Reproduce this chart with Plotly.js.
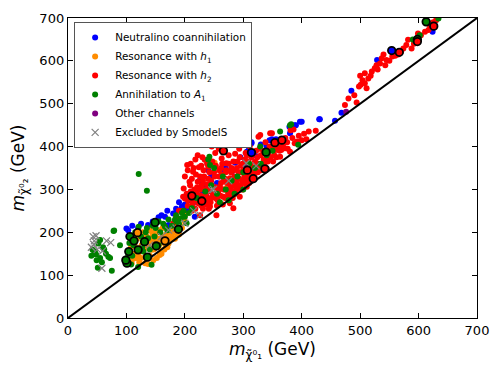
<!DOCTYPE html>
<html>
<head>
<meta charset="utf-8">
<script src="https://cdn.plot.ly/plotly-3.0.1.min.js"></script>
<style>
  html, body { margin: 0; padding: 0; background: #fff; }
  #myDiv { width: 501px; height: 376px; }
</style>
</head>
<body>
<div id="myDiv"></div>
<script>
// points, [m_chi1, m_chi2] in GeV
var coannPts = [[100,209],[103,205],[137,217],[166,236],[172,217],[180,244],[183,244],[195,256],[195,260],[203,261],
  [206,252],[214,268],[217,236],[237,283],[249,287],[230,290],[225,300],[260,330],[287,364],[306,388],
  [314,408],[314,410],[349,417],[356,417],[366,396],[379,446],[380,431],[383,443],[388,450],[390,450],
  [397,458],[400,458],[430,464],[431,464],[457,460],[468,479],[485,530],[529,602],[624,668],[240,345],
  [270,350],[300,360],[320,380],[340,400],[255,315],[280,340],[150,225],[160,240],[120,210],[190,270],
  [286,362],[234,310],
  [110,215],[125,220],[145,225],[155,235],[170,250],[185,255],[200,265],[210,275],[220,300],[225,320],
  [245,330],[265,345],[295,375],[310,395],[330,405],[345,415]];

var h1Pts = [[120,147],[109,128],[132,128],[143,159],[146,135],[157,147],[160,186],[172,174],[177,186],[126,170],
  [114,170],[140,205],[151,198],[186,198],[137,126],[115,150],[125,140],[130,160],[135,190],[150,180],
  [155,165],[165,160],[168,195],[175,200],[180,210],[162,210],[145,190],[118,185],[108,165],[104,142],
  [128,200],[140,145],[152,140],[160,150],[170,165],[183,185],[190,195],[122,130],[148,172],[138,178],
  [112,138],[182,215],[195,210],[200,225],[251,362],[273,306],[200,240],
  [110,150],[117,140],[124,155],[133,145],[138,165],[142,180],[147,160],[153,185],[158,175],[163,190],
  [167,170],[173,185],[178,195],[184,205],[188,210],[192,215],[128,180],[134,170],[144,200],[156,205]];

var h2Pts = [[198,302],[200,279],[205,262],[209,310],[212,250],[203,290],[214,272],[196,250],
  [218,255],[220,290],[222,318],[226,299],[226,330],[226,240],[230,270],[232,345],[228,262],[234,300],[235,282],[224,352],[219,335],
  [237,271],[240,353],[241,255],[243,295],[243,260],[246,400],[249,425],[245,320],[250,340],[252,280],[254,240],[238,312],[247,365],[253,305],[255,262],[236,288],
  [258,330],[260,306],[262,350],[266,283],[268,300],[271,361],[272,315],[265,265],[270,340],[274,290],[263,372],[256,423],[264,422],[275,380],[267,322],
  [277,268],[277,326],[280,350],[283,256],[286,383],[288,300],[289,314],[292,340],[294,283],[290,365],[285,330],[279,300],[295,310],[282,280],[293,395],
  [298,320],[300,345],[303,370],[306,306],[308,330],[311,400],[313,355],[299,300],[304,385],[310,315],[315,340],[302,330],
  [317,334],[318,345],[320,365],[323,361],[326,423],[329,427],[325,340],[330,380],[333,355],[328,395],[335,370],[322,390],
  [340,349],[343,380],[349,431],[351,365],[355,392],[360,400],[345,400],[338,410],[357,375],[346,431],
  [363,376],[365,392],[371,396],[380,388],[386,440],[381,438],[388,408],[400,415],[408,417],[424,437],[395,425],[375,410],
  [180,221],[197,283],[190,250],[185,235],[208,285],[216,300],[231,320],[244,280],[257,292],[262,315],[284,345],[296,355],
  [205,275],[210,295],[213,265],[217,280],[221,305],[223,268],[227,285],[229,310],[231,255],[233,330],
  [236,265],[239,300],[240,325],[242,340],[244,270],[246,310],[248,290],[251,330],[253,355],[256,275],
  [257,300],[259,345],[261,285],[263,335],[264,360],[266,300],[269,280],[269,325],[271,345],[273,300],
  [275,360],[276,285],[278,310],[279,340],[281,295],[283,365],[284,310],[286,320],[287,290],[289,350],
  [291,305],[293,325],[294,375],[296,300],[297,340],[299,360],[301,315],[303,325],[305,345],[306,380],
  [307,318],[309,365],[312,330],[314,375],[316,350],[319,330],[321,340],[324,375],[327,350],[331,345],
  [334,390],[336,360],[339,370],[342,365],[347,375],[349,395],[353,380],[358,410],[362,390],[368,405],
  [372,420],[376,395],[384,420],[392,412],[404,430],[412,435],
  [200,330],[205,345],[210,360],[214,341],[215,350],[212,325],[218,370],[222,380],[230,375],[234,369],
  [238,360],[228,355],[204,357],[208,318],[252,385],[258,395],
  [474,497],[494,503],[480,512],[490,520],[498,540],[501,544],[504,555],[508,548],[511,536],[500,565],[508,571],[514,559],
  [518,565],[520,575],[525,583],[530,580],[528,590],[534,594],[537,606],[540,615],[545,602],[543,590],[550,600],[555,610],
  [560,612],[565,615],[570,622],[574,629],[579,637],[582,649],[588,629],[592,640],[595,645],[599,664],[604,660],[611,668],
  [617,672],[615,688],[620,680],[625,690],[630,695]];

var a1Pts = [[55,182],[52,174],[42,159],[46,155],[69,143],[72,140],[49,135],[55,140],[48,148],[75,110],
  [78,203],[89,170],[60,165],[65,150],[45,150],[58,130],[51,117],[40,145],[62,160],
  [121,336],[135,297],[176,433],[228,430],[270,423],[242,376],[243,357],[79,204],
  [121,213],[100,135],[129,155],[137,186],[155,170],[166,213],[183,229],[200,236],[212,256],[203,221],[143,124],[120,119],
  [110,145],[105,175],[115,200],[125,190],[140,160],[150,210],[170,205],[190,220],
  [185,240],[195,245],[108,125],[118,160],
  [103,145],[112,170],[127,165],[133,200],[148,190],
  [158,200],[163,220],[172,230],[178,215],[186,225],[193,232],[198,250],[207,245],
  [135,210],[145,215],[155,225],
  [329,400],[363,435],[380,450],[394,404],[382,452],[220,280],[235,295],[245,310],[255,290],[260,270],[270,300],
  [280,320],[290,330],[300,340],[310,360],[320,350],[300,300],[265,330],[250,350],[240,370],[285,290],[275,275],
  [330,360],[340,380],[350,390],[602,660],[634,699],[590,650]];

var otherPts = [[476,481],[305,350]];

var excludedPts = [[43,190],[45,180],[44,172],[59,156],[66,180],[73,176],[58,116],[40,165],[50,160],[48,192],
  [129,174],[172,205],[200,221],[246,299],[226,240],[322,355],[249,300],[305,361],[160,190],[185,210],
  [215,250],[275,320],[140,170]];

// points drawn with a black ring, with the colour of their channel
var ringPts = [[101,128],[99,135],[104,155],[106,190],[113,180],[120,159],[131,178],[136,142],[151,168],[149,223],
  [189,207],[339,387],[598,650],[613,691],
  [119,199],[166,180],
  [212,285],[229,273],[266,390],[354,409],[366,415],[307,345],[337,348],[317,325],[567,620],[598,645],[626,681],
  [314,386],[554,624]];
var ringCols = ["g","g","g","g","g","g","g","g","g","g","g","g","g","g",
  "o","o",
  "r","r","r","r","r","r","r","r","r","r","r",
  "b","b"];

var diag = [0, 700];

var colors = {b: "#0000ff", o: "#ff8c00", r: "#ff0000", g: "#008000", p: "#800080", x: "#808080"};

function dots(pts, name, col) {
  return {
    x: pts.map(p => p[0]),
    y: pts.map(p => p[1]),
    mode: "markers",
    type: "scatter",
    name: name,
    marker: {color: col, size: 6, line: {width: 0}},
    hoverinfo: "skip"
  };
}

var excluded = {
  x: excludedPts.map(p => p[0]),
  y: excludedPts.map(p => p[1]),
  mode: "markers",
  type: "scatter",
  name: "Excluded by SmodelS",
  marker: {symbol: "x-thin", size: 7, color: colors.x, line: {color: colors.x, width: 1.2}},
  hoverinfo: "skip"
};

var rings = {
  x: ringPts.map(p => p[0]),
  y: ringPts.map(p => p[1]),
  mode: "markers",
  type: "scatter",
  showlegend: false,
  marker: {size: 7.5, color: ringCols.map(c => colors[c]), line: {color: "#000", width: 1.8}},
  hoverinfo: "skip"
};

var line = {
  x: diag,
  y: diag,
  mode: "lines",
  type: "scatter",
  showlegend: false,
  line: {color: "#000", width: 2},
  hoverinfo: "skip"
};

var data = [
  dots(coannPts, "Neutralino coannihilation", colors.b),
  dots(h1Pts, "Resonance with <i>h</i><sub>1</sub>", colors.o),
  dots(h2Pts, "Resonance with <i>h</i><sub>2</sub>", colors.r),
  dots(a1Pts, "Annihilation to <i>A</i><sub>1</sub>", colors.g),
  dots(otherPts, "Other channels", colors.p),
  excluded,
  line,
  rings
];

var axis = {
  range: [0, 700],
  dtick: 100,
  tick0: 0,
  ticks: "inside",
  ticklen: 5,
  tickwidth: 1,
  tickcolor: "#000",
  showline: true,
  linecolor: "#000",
  linewidth: 1.2,
  mirror: "allticks",
  showgrid: false,
  zeroline: false,
  tickfont: {size: 13, color: "#000"}
};

var layout = {
  width: 501,
  height: 376,
  margin: {l: 68, r: 24, t: 18, b: 58},
  paper_bgcolor: "#fff",
  plot_bgcolor: "#fff",
  font: {family: "DejaVu Sans", color: "#000"},
  showlegend: true,
  legend: {
    x: 0.015, y: 0.987, xanchor: "left", yanchor: "top",
    bordercolor: "#555", borderwidth: 1, bgcolor: "#fff",
    font: {size: 10.4},
    tracegroupgap: 0,
    itemwidth: 30
  },
  xaxis: Object.assign({}, axis, {
    title: {text: "<i>m</i><sub>χ̃⁰₁</sub> (GeV)", font: {size: 17}, standoff: 6}
  }),
  yaxis: Object.assign({}, axis, {
    title: {text: "<i>m</i><sub>χ̃⁰₂</sub> (GeV)", font: {size: 17}, standoff: 10}
  })
};

Plotly.newPlot("myDiv", data, layout, {staticPlot: true});
</script>
</body>
</html>
